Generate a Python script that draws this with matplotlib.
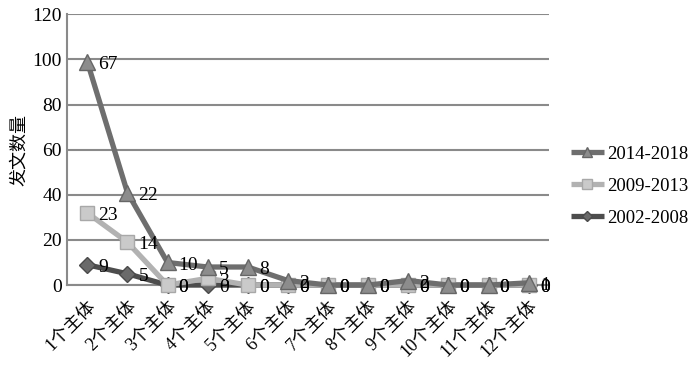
import matplotlib.pyplot as plt
import numpy as np

plt.rcParams['font.family'] = ['Liberation Serif', 'Noto Sans CJK SC']

categories = ['1个主体', '2个主体', '3个主体', '4个主体', '5个主体', '6个主体',
              '7个主体', '8个主体', '9个主体', '10个主体', '11个主体', '12个主体']
d_2002 = [9, 5, 0, 0, 0, 0, 0, 0, 0, 0, 0, 0]
d_2009 = [23, 14, 0, 3, 0, 0, 0, 0, 0, 0, 0, 0]
d_2014 = [67, 22, 10, 5, 8, 2, 0, 0, 2, 0, 0, 1]
names = ['2002-2008', '2009-2013', '2014-2018']

# stacked line chart: plotted height is the running total
stack = np.cumsum(np.array([d_2002, d_2009, d_2014]), axis=0)
vals = [d_2002, d_2009, d_2014]

line_cols = ['#4d4d4d', '#b2b2b2', '#6e6e6e']
face_cols = ['#6a6a6a', '#cacaca', '#8c8c8c']
edge_cols = ['#4a4a4a', '#a8a8a8', '#666666']
markers = ['D', 's', '^']
msizes = [8, 10, 11]

fig = plt.figure(figsize=(7, 3.65), dpi=100)
ax = fig.add_axes([0.096, 0.219, 0.688, 0.742])

x = np.arange(len(categories))
handles = []
for i in range(3):
    h, = ax.plot(x, stack[i], color=line_cols[i], lw=3.8, marker=markers[i],
                 ms=msizes[i], mfc=face_cols[i], mec=edge_cols[i], mew=1,
                 zorder=3 + i, solid_capstyle='butt', clip_on=False)
    handles.append(h)
    for xi, yi, v in zip(x, stack[i], vals[i]):
        ax.annotate(str(v), (xi, yi), xytext=(8, -2), textcoords='offset points',
                    ha='left', va='center', fontsize=14, zorder=10)

ax.set_xlim(-0.5, len(categories) - 0.5)
ax.set_ylim(0, 120)
ax.set_yticks(range(0, 121, 20))
ax.yaxis.grid(True, color='#8a8a8a', lw=1.5)
ax.set_axisbelow(True)
ax.set_xticks(x)
ax.set_xticklabels(categories, rotation=45, ha='right', va='top',
                   rotation_mode='anchor')
ax.tick_params(axis='y', length=0, labelsize=14, pad=4)
ax.tick_params(axis='x', length=0, labelsize=13, pad=9)
for s in ['top', 'right']:
    ax.spines[s].set_visible(False)
for s in ['left', 'bottom']:
    ax.spines[s].set_color('#8a8a8a')
    ax.spines[s].set_linewidth(1.5)
ax.set_ylabel('发文数量', fontsize=13, labelpad=3)

fig.legend(handles[::-1], names[::-1], loc='center left',
           bbox_to_anchor=(0.815, 0.49), frameon=False, fontsize=13.5,
           handlelength=1.8, labelspacing=0.8, handletextpad=0.15,
           borderpad=0, borderaxespad=0, markerscale=0.7)

plt.savefig('out.png')
